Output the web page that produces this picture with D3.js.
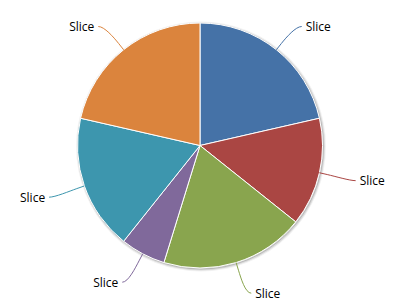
<!DOCTYPE html>
<html>
<head>
<meta charset="utf-8">
<script src="https://cdn.jsdelivr.net/npm/d3@7"></script>
<style>
  body { margin: 0; background: #fff; }
  svg { display: block; }
</style>
</head>
<body>
<svg id="chart" width="407" height="303"></svg>
<script>
// slice data, clockwise from 12 o'clock
const labels = ["Slice", "Slice", "Slice", "Slice", "Slice", "Slice"];
const values = [18, 12, 16, 5, 15, 18];
const colors = ["#4572A7", "#AA4643", "#89A54E", "#80699B", "#3D96AE", "#DB843D"];

const w = 407, h = 303;
const cx = 200, cy = 145.5, r = 122.5;
const distance = 31;

const svg = d3.select("#chart");
const g = svg.append("g").attr("transform", "translate(" + cx + "," + cy + ")");

const pie = d3.pie().sort(null).value(d => d);
const arcs = pie(values);
const arc = d3.arc().innerRadius(0).outerRadius(r);

// soft grey shadow under the pie
[5, 3, 1].forEach((sw, i) => {
  g.append("circle")
    .attr("r", r)
    .attr("transform", "translate(1,1)")
    .attr("fill", "none")
    .attr("stroke", "black")
    .attr("stroke-opacity", 0.05 * (i + 1))
    .attr("stroke-width", sw);
});

g.selectAll("path.slice")
  .data(arcs)
  .enter()
  .append("path")
  .attr("class", "slice")
  .attr("d", arc)
  .attr("fill", (d, i) => colors[i])
  .attr("stroke", "#fff")
  .attr("stroke-width", 1)
  .attr("stroke-linejoin", "round");

// point at radius rad along the middle of a slice
function pt(d, rad) {
  const a = (d.startAngle + d.endAngle) / 2;
  return [Math.sin(a) * rad, -Math.cos(a) * rad];
}

arcs.forEach((d, i) => {
  const a = (d.startAngle + d.endAngle) / 2;
  const left = a > Math.PI;
  const edge = pt(d, r);
  const brk = pt(d, r + 8);
  const anchor = pt(d, r + distance);
  const ay = anchor[1] + 1;
  const endX = anchor[0] + (left ? -6 : 6);
  const path =
    "M" + endX + "," + ay +
    "C" + anchor[0] + "," + ay + " " +
    (2 * brk[0] - edge[0]) + "," + (2 * brk[1] - edge[1]) + " " +
    brk[0] + "," + brk[1] +
    "L" + edge[0] + "," + edge[1];

  g.append("path")
    .attr("d", path)
    .attr("fill", "none")
    .attr("stroke", colors[i])
    .attr("stroke-width", 1);

  g.append("text")
    .text(labels[i])
    .attr("x", anchor[0] + (left ? -10 : 10))
    .attr("y", ay + 0.5)
    .attr("dy", "0.35em")
    .attr("text-anchor", left ? "end" : "start")
    .attr("font-family", "'Segoe UI', 'Open Sans', sans-serif")
    .attr("font-size", "12px")
    .attr("fill", "#000");
});
</script>
</body>
</html>
